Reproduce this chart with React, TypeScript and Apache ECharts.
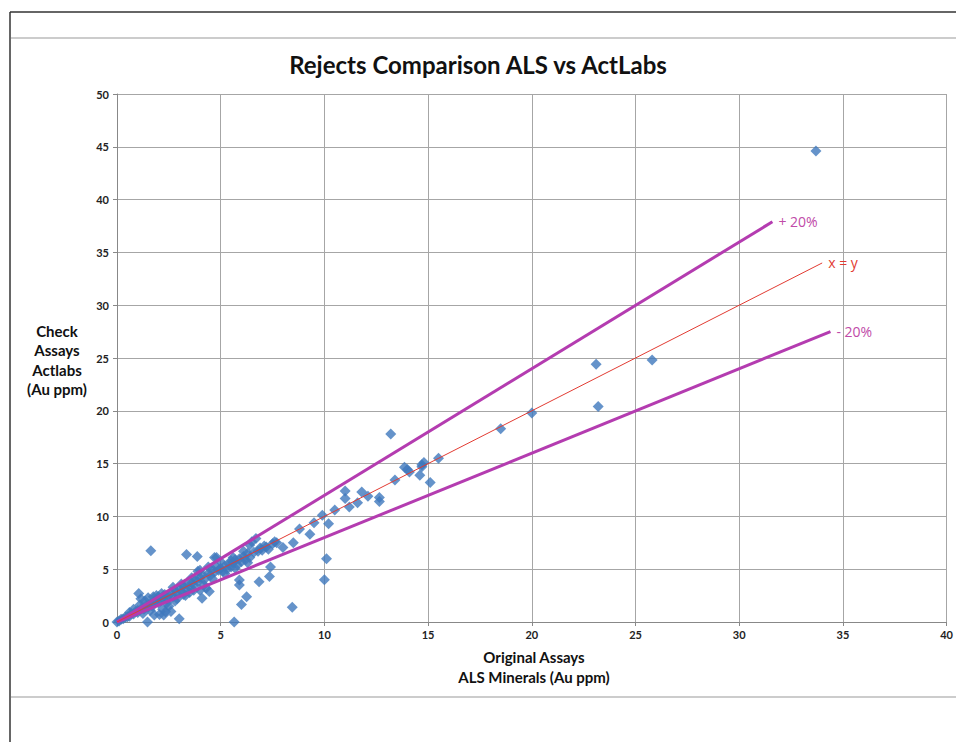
import React, { useEffect, useRef } from "react";
import * as echarts from "echarts";

const titleText = "Rejects Comparison ALS vs ActLabs";
const xAxisName = ["Original Assays", "ALS Minerals (Au ppm)"];
const yAxisName = ["Check", "Assays", "Actlabs", "(Au ppm)"];

// Original (ALS) vs Check (ActLabs) assays, Au ppm
const assayPairs: [number, number][] = [
  [0, 0], [0.1, 0.1], [0.2, 0.25], [0.3, 0.3], [0.4, 0.45], [0.5, 0.5], [0.6, 0.55], [0.7, 0.8],
  [0.8, 0.75], [0.9, 1.0], [1.0, 1.1], [1.0, 0.9], [1.05, 2.7], [1.15, 2.2], [1.2, 1.3], [1.3, 1.2],
  [1.35, 2.0], [1.4, 1.6], [1.47, 0.0], [1.5, 1.4], [1.5, 2.3], [1.6, 1.7], [1.63, 6.75], [1.7, 1.5],
  [1.75, 2.4], [1.8, 1.9], [1.8, 0.66], [1.9, 2.1], [2.0, 1.8], [2.0, 2.4], [2.05, 0.7], [2.1, 2.0],
  [2.2, 2.3], [2.2, 1.2], [2.25, 0.66], [2.3, 2.6], [2.34, 0.98], [2.4, 2.2], [2.5, 2.5], [2.5, 1.5],
  [2.6, 2.8], [2.6, 1.0], [2.7, 2.4], [2.8, 3.0], [2.8, 2.0], [2.9, 2.7], [3.0, 3.2], [3.0, 0.3],
  [3.1, 2.9], [3.2, 3.4], [3.2, 2.6], [3.3, 3.1], [3.35, 6.4], [3.4, 3.6], [3.5, 3.3], [3.5, 2.8],
  [3.6, 3.7], [3.7, 3.5], [3.8, 4.0], [3.87, 6.2], [3.9, 3.8], [3.9, 4.8], [4.0, 4.2], [4.0, 3.0],
  [4.1, 2.25], [4.1, 4.5], [4.2, 4.0], [4.3, 3.2], [4.4, 4.6], [4.45, 2.9], [4.5, 4.4], [4.6, 5.0],
  [4.7, 6.1], [4.7, 4.7], [4.8, 6.1], [4.8, 5.2], [4.9, 4.9], [5.0, 5.1], [5.1, 4.8], [5.2, 5.3],
  [5.3, 5.0], [5.4, 5.5], [5.5, 5.2], [5.5, 5.8], [5.6, 5.6], [5.65, 0.0], [5.7, 5.9], [5.8, 5.4],
  [5.9, 3.98], [5.9, 3.5], [5.9, 6.0], [6.0, 1.65], [6.0, 5.7], [6.1, 6.2], [6.2, 5.9], [6.25, 2.4],
  [6.3, 6.5], [6.4, 7.3], [6.4, 6.1], [6.5, 7.6], [6.6, 6.6], [6.7, 7.9], [6.8, 6.7], [6.85, 3.8],
  [6.9, 7.0], [7.0, 6.8], [7.1, 7.2], [7.2, 7.1], [7.3, 6.9], [7.35, 4.3], [7.4, 5.2], [7.5, 7.4],
  [7.6, 7.6], [7.7, 7.5], [8.0, 7.05], [8.45, 1.4], [8.5, 7.5], [8.8, 8.8], [9.3, 8.3], [9.5, 9.4],
  [9.9, 10.1], [10.0, 4.0], [10.1, 6.0], [10.2, 9.3], [10.5, 10.6], [11.0, 12.4], [11.0, 11.7], [11.2, 10.9],
  [11.6, 11.3], [11.8, 12.3], [12.1, 11.9], [12.65, 11.8], [12.65, 11.4], [13.2, 17.8], [13.4, 13.45], [13.86, 14.65],
  [14.0, 14.45], [14.1, 14.2], [14.6, 13.9], [14.7, 14.9], [14.8, 15.1], [14.7, 14.7], [15.1, 13.2], [15.5, 15.5],
  [18.5, 18.3], [20.0, 19.8], [23.1, 24.4], [23.2, 20.4], [25.8, 24.8], [33.7, 44.6],
  [0.6, 0.9], [0.8, 1.2], [1.1, 1.6], [1.25, 0.8], [1.6, 1.1], [1.9, 2.5], [2.15, 2.7], [2.4, 1.8],
  [2.7, 3.3], [2.9, 2.2], [3.1, 3.6], [3.3, 2.5], [3.6, 4.2], [3.7, 3.0], [4.0, 4.9], [4.2, 3.5],
  [4.4, 5.2], [4.6, 4.1], [5.0, 5.7], [5.2, 4.6], [5.6, 6.1], [5.7, 5.1], [6.1, 6.7], [6.3, 5.6],
];

const plusLine: [number, number][] = [[0, 0], [31.6, 37.9]];
const unityLine: [number, number][] = [[0, 0], [34.0, 34.0]];
const minusLine: [number, number][] = [[0, 0], [34.4, 27.5]];
const lineLabels = ["+ 20%", "x = y", "- 20%"];

const FONT = "Lato, 'Open Sans', sans-serif";
const PURPLE = "#b43cb0";
const LABEL_PURPLE = "#c04aa8";
const RED = "#e23b32";

export default function App() {
  const ref = useRef<HTMLDivElement>(null);
  useEffect(() => {
    if (!ref.current) return;
    const chart = echarts.init(ref.current, undefined, { renderer: "svg" });
    const endLabel = (text: string, color: string) => ({
      show: true,
      distance: 6,
      color,
      fontSize: 14,
      fontFamily: "'Open Sans', sans-serif",
      formatter: () => text,
    });
    const textStyleBold = {
      fontFamily: FONT,
      fontWeight: "bold",
      fontSize: 15,
      fill: "#111",
      align: "center",
      verticalAlign: "middle",
    };
    chart.setOption({
      animation: false,
      backgroundColor: "#ffffff",
      title: {
        text: titleText,
        left: "center",
        top: 47,
        textStyle: { fontFamily: FONT, fontWeight: "bold", fontSize: 24, color: "#111" },
      },
      grid: { left: 117, right: 3, top: 94, bottom: 120 },
      xAxis: {
        type: "value",
        min: 0,
        max: 40,
        interval: 5,
        axisLine: { show: true, lineStyle: { color: "#888" } },
        axisTick: { show: true, length: 4, lineStyle: { color: "#888" } },
        axisLabel: { fontFamily: FONT, fontWeight: "bold", fontSize: 11, color: "#222", margin: 7 },
        splitLine: { show: true, lineStyle: { color: "#a6a6a6", width: 1 } },
      },
      yAxis: {
        type: "value",
        min: 0,
        max: 50,
        interval: 5,
        axisLine: { show: true, lineStyle: { color: "#888" } },
        axisTick: { show: true, length: 4, lineStyle: { color: "#888" } },
        axisLabel: { fontFamily: FONT, fontWeight: "bold", fontSize: 11, color: "#222", margin: 8 },
        splitLine: { show: true, lineStyle: { color: "#a6a6a6", width: 1 } },
      },
      series: [
        {
          type: "scatter",
          data: assayPairs,
          symbol: "diamond",
          symbolSize: 11,
          itemStyle: { color: "#3f78bd" },
          z: 2,
        },
        {
          type: "line",
          data: plusLine,
          showSymbol: false,
          symbol: "none",
          lineStyle: { color: PURPLE, width: 3 },
          endLabel: endLabel(lineLabels[0], LABEL_PURPLE),
          z: 3,
        },
        {
          type: "line",
          data: unityLine,
          showSymbol: false,
          symbol: "none",
          lineStyle: { color: RED, width: 1 },
          endLabel: endLabel(lineLabels[1], RED),
          z: 4,
        },
        {
          type: "line",
          data: minusLine,
          showSymbol: false,
          symbol: "none",
          lineStyle: { color: PURPLE, width: 3 },
          endLabel: endLabel(lineLabels[2], LABEL_PURPLE),
          z: 3,
        },
      ],
      graphic: [
        { type: "line", shape: { x1: 10, y1: 12, x2: 956, y2: 12 }, style: { stroke: "#333", lineWidth: 1.5 } },
        { type: "line", shape: { x1: 10, y1: 12, x2: 10, y2: 742 }, style: { stroke: "#333", lineWidth: 1.5 } },
        { type: "line", shape: { x1: 11, y1: 38, x2: 956, y2: 38 }, style: { stroke: "#cccccc", lineWidth: 2 } },
        { type: "line", shape: { x1: 11, y1: 697, x2: 956, y2: 697 }, style: { stroke: "#cccccc", lineWidth: 2 } },
        ...yAxisName.map((t, i) => ({
          type: "text",
          x: 57,
          y: 331 + i * 19.3,
          style: { ...textStyleBold, text: t },
        })),
        ...xAxisName.map((t, i) => ({
          type: "text",
          x: 534,
          y: 657 + i * 20,
          style: { ...textStyleBold, text: t },
        })),
      ],
    });
    return () => chart.dispose();
  }, []);
  return (
    <div
      ref={ref}
      style={{ position: "fixed", left: 0, top: 0, width: 956, height: 742, background: "#fff" }}
    />
  );
}
